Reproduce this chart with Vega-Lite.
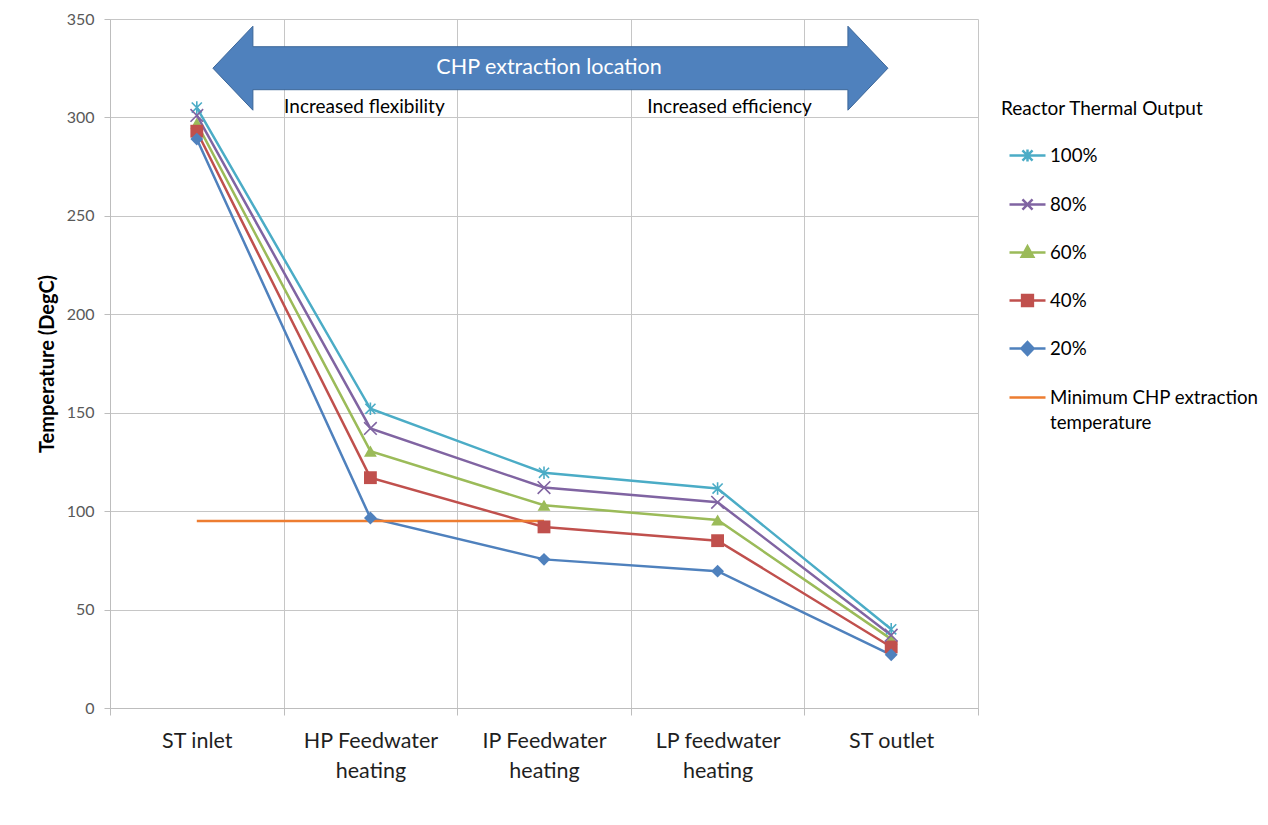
{
  "$schema": "https://vega.github.io/schema/vega-lite/v6.json",
  "width": 868,
  "height": 689,
  "autosize": {"type": "none"},
  "padding": {"left": 110, "top": 19, "right": 290, "bottom": 117},
  "background": "white",
  "config": {
    "view": {"stroke": null},
    "font": "Lato",
    "text": {"font": "Lato"}
  },
  "datasets": {
    "temps": [
      {"stage": "ST inlet", "series": "100%", "temp": 305},
      {"stage": "ST inlet", "series": "80%", "temp": 301},
      {"stage": "ST inlet", "series": "60%", "temp": 297},
      {"stage": "ST inlet", "series": "40%", "temp": 293},
      {"stage": "ST inlet", "series": "20%", "temp": 289},
      {"stage": "HP Feedwater heating", "series": "100%", "temp": 152},
      {"stage": "HP Feedwater heating", "series": "80%", "temp": 142},
      {"stage": "HP Feedwater heating", "series": "60%", "temp": 130.5},
      {"stage": "HP Feedwater heating", "series": "40%", "temp": 117},
      {"stage": "HP Feedwater heating", "series": "20%", "temp": 96.5},
      {"stage": "IP Feedwater heating", "series": "100%", "temp": 119.5},
      {"stage": "IP Feedwater heating", "series": "80%", "temp": 112},
      {"stage": "IP Feedwater heating", "series": "60%", "temp": 103},
      {"stage": "IP Feedwater heating", "series": "40%", "temp": 92},
      {"stage": "IP Feedwater heating", "series": "20%", "temp": 75.5},
      {"stage": "LP feedwater heating", "series": "100%", "temp": 111.5},
      {"stage": "LP feedwater heating", "series": "80%", "temp": 104.5},
      {"stage": "LP feedwater heating", "series": "60%", "temp": 95.5},
      {"stage": "LP feedwater heating", "series": "40%", "temp": 85},
      {"stage": "LP feedwater heating", "series": "20%", "temp": 69.5},
      {"stage": "ST outlet", "series": "100%", "temp": 40},
      {"stage": "ST outlet", "series": "80%", "temp": 37},
      {"stage": "ST outlet", "series": "60%", "temp": 35},
      {"stage": "ST outlet", "series": "40%", "temp": 31},
      {"stage": "ST outlet", "series": "20%", "temp": 27},
      {"stage": "ST inlet", "series": "Minimum CHP extraction temperature", "temp": 95},
      {"stage": "HP Feedwater heating", "series": "Minimum CHP extraction temperature", "temp": 95},
      {"stage": "IP Feedwater heating", "series": "Minimum CHP extraction temperature", "temp": 95}
    ]
  },
  "encoding": {
    "x": {
      "field": "stage",
      "type": "nominal",
      "sort": ["ST inlet", "HP Feedwater heating", "IP Feedwater heating", "LP feedwater heating", "ST outlet"],
      "bandPosition": 0.5,
      "scale": {
        "type": "band",
        "domain": ["ST inlet", "HP Feedwater heating", "IP Feedwater heating", "LP feedwater heating", "ST outlet"],
        "paddingInner": 0,
        "paddingOuter": 0
      },
      "axis": {
        "title": null,
        "tickBand": "extent",
        "grid": true,
        "gridColor": "#c6c6c6",
        "gridWidth": 1,
        "domainColor": "#bdbdbd",
        "tickColor": "#bdbdbd",
        "tickSize": 7,
        "labelAngle": 0,
        "labelFontSize": 21.5,
        "labelColor": "#1f1f1f",
        "labelPadding": 15,
        "labelLineHeight": 30,
        "labelExpr": "indexof(datum.label, ' heating') > 0 ? [replace(datum.label, ' heating', ''), 'heating'] : datum.label"
      }
    },
    "y": {
      "field": "temp",
      "type": "quantitative",
      "scale": {"domain": [0, 350], "nice": false, "zero": true},
      "axis": {
        "title": "Temperature (DegC)",
        "titleFontSize": 20,
        "titleFontWeight": "bold",
        "titleColor": "#000000",
        "titlePadding": 9,
        "values": [0, 50, 100, 150, 200, 250, 300, 350],
        "grid": true,
        "gridColor": "#c6c6c6",
        "domainColor": "#bdbdbd",
        "tickColor": "#bdbdbd",
        "tickSize": 6,
        "labelFontSize": 16,
        "labelColor": "#595959",
        "labelPadding": 10
      }
    }
  },
  "layer": [
    {
      "data": {"values": [{"stage": "IP Feedwater heating", "temp": 325}]},
      "mark": {
        "type": "point",
        "filled": true,
        "opacity": 1,
        "fill": "#4F81BD",
        "stroke": "#3B6699",
        "strokeWidth": 1,
        "size": 455625,
        "shape": "M-0.981,0L-0.8625,-0.1244L-0.8625,-0.0637L0.9005,-0.0637L0.9005,-0.1244L1.019,0L0.9005,0.1244L0.9005,0.0637L-0.8625,0.0637L-0.8625,0.1244Z"
      }
    },
    {
      "data": {"values": [{"stage": "IP Feedwater heating", "temp": 325, "note": "CHP extraction location"}]},
      "mark": {"type": "text", "color": "#ffffff", "fontSize": 21.5, "dx": 5, "align": "center", "baseline": "middle"},
      "encoding": {"text": {"field": "note"}}
    },
    {
      "data": {"values": [{"stage": "HP Feedwater heating", "temp": 305.3, "note": "Increased flexibility"}]},
      "mark": {"type": "text", "color": "#000000", "fontSize": 19, "dx": -6, "align": "center", "baseline": "middle"},
      "encoding": {"text": {"field": "note"}}
    },
    {
      "data": {"values": [{"stage": "LP feedwater heating", "temp": 305.3, "note": "Increased efficiency"}]},
      "mark": {"type": "text", "color": "#000000", "fontSize": 19, "dx": 12, "align": "center", "baseline": "middle"},
      "encoding": {"text": {"field": "note"}}
    },
    {
      "data": {"name": "temps"},
      "mark": {"type": "line", "strokeWidth": 2.5},
      "encoding": {
        "color": {
          "field": "series",
          "type": "nominal",
          "scale": {
            "domain": ["100%", "80%", "60%", "40%", "20%", "Minimum CHP extraction temperature"],
            "range": ["#4BACC6", "#8064A2", "#9BBB59", "#C0504D", "#4F81BD", "#ED7D31"]
          },
          "legend": {
            "title": "Reactor Thermal Output",
            "orient": "none",
            "legendX": 891,
            "legendY": 81,
            "padding": 0,
            "titleFontSize": 19,
            "titleFontWeight": "normal",
            "titleColor": "#000000",
            "titleLimit": 400,
            "titlePadding": 17,
            "labelFontSize": 18.7,
            "labelColor": "#000000",
            "labelOffset": 3,
            "labelLimit": 300,
            "symbolSize": 1296,
            "symbolStrokeWidth": 2.5,
            "symbolOffset": 7,
            "rowPadding": 18,
            "labelExpr": "datum.label == 'Minimum CHP extraction temperature' ? ['Minimum CHP extraction', 'temperature'] : datum.label",
            "encode": {
              "symbols": {
                "update": {
                  "shape": {"signal": "datum.value == '100%' ? 'M-1,0H1M0,-0.34V0.34M-0.28,-0.28L0.28,0.28M-0.28,0.28L0.28,-0.28' : datum.value == '80%' ? 'M-1,0H1M-0.28,-0.28L0.28,0.28M-0.28,0.28L0.28,-0.28' : datum.value == '60%' ? 'M-1,0H1M0,-0.34L0.32,0.24H-0.32Z' : datum.value == '40%' ? 'M-1,0H1M-0.3,-0.3H0.3V0.3H-0.3Z' : datum.value == '20%' ? 'M-1,0H1M0,-0.36L0.34,0L0,0.36L-0.34,0Z' : 'M-1,0H1'"},
                  "fill": {"scale": "color", "field": "value"},
                  "stroke": {"scale": "color", "field": "value"},
                  "strokeWidth": {"value": 2.5},
                  "opacity": {"value": 1}
                }
              },
              "labels": {"update": {"lineHeight": {"value": 25}}}
            }
          }
        }
      }
    },
    {
      "data": {"name": "temps"},
      "transform": [{"filter": {"field": "series", "oneOf": ["60%", "40%", "20%"]}}],
      "mark": {"type": "point", "filled": true, "opacity": 1, "size": 165, "strokeWidth": 1},
      "encoding": {
        "color": {"field": "series", "type": "nominal", "legend": null},
        "shape": {
          "field": "series",
          "type": "nominal",
          "scale": {
            "domain": ["100%", "80%", "60%", "40%", "20%"],
            "range": ["M0,-1V1M-0.8,-0.8L0.8,0.8M-0.8,0.8L0.8,-0.8", "M-1,-1L1,1M-1,1L1,-1", "triangle-up", "square", "diamond"]
          },
          "legend": null
        }
      }
    },
    {
      "data": {"name": "temps"},
      "transform": [{"filter": {"field": "series", "oneOf": ["100%", "80%"]}}],
      "mark": {"type": "point", "filled": false, "opacity": 1, "size": 160, "strokeWidth": 1.6},
      "encoding": {
        "color": {"field": "series", "type": "nominal", "legend": null},
        "shape": {"field": "series", "type": "nominal", "legend": null}
      }
    }
  ]
}
